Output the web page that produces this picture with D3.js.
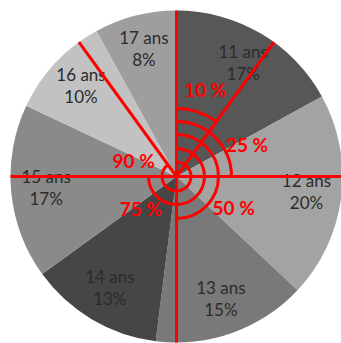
<!DOCTYPE html>
<html>
<head>
<meta charset="utf-8">
<script src="https://cdn.jsdelivr.net/npm/d3@7"></script>
<style>
  html, body { margin: 0; padding: 0; background: #ffffff; }
  svg { display: block; }
</style>
</head>
<body>
<svg id="chart" width="341" height="343"></svg>
<script>
// Age groups and their share of the total (percent)
const ages = ["11 ans", "12 ans", "13 ans", "14 ans", "15 ans", "16 ans", "17 ans"];
const shares = [17, 20, 15, 13, 17, 10, 8];

// Cumulative thresholds marked over the pie
const thresholds = [10, 25, 50, 75, 90];
const thresholdLabels = ["10 %", "25 %", "50 %", "75 %", "90 %"];
// Radial guide lines (percent of the full turn)
const guideAngles = [0, 10, 25, 50, 75, 90];

// ---- styling / layout ----
const sliceColors = ["#575757", "#a3a3a3", "#797979", "#464646", "#8a8a8a", "#c2c2c2", "#9e9e9e"];
const cx = 176.5, cy = 176.5, radius = 166;
const labelRadius = 131;
const ringRadius = [68, 55, 42, 28, 14.5];
const ringLabelOffset = [[28.8, -79.8], [70.5, -24.8], [57.2, 38.5], [-35.7, 39.2], [-42.8, -8.8]];
const red = "#ff0000";

const svg = d3.select("#chart");
const g = svg.append("g").attr("transform", `translate(${cx},${cy})`);

// percent of the full circle -> angle (clockwise from 12 o'clock)
const angle = d3.scaleLinear().domain([0, 100]).range([0, 2 * Math.PI]);

const pie = d3.pie().sort(null).value(d => d.value);
const arcs = pie(ages.map((a, i) => ({ age: a, value: shares[i] })));

const sliceArc = d3.arc().innerRadius(0).outerRadius(radius);
g.selectAll("path.slice")
  .data(arcs)
  .join("path")
  .attr("class", "slice")
  .attr("d", sliceArc)
  .attr("fill", (d, i) => sliceColors[i]);

// slice labels: age on the first line, share on the second
const labelArc = d3.arc().innerRadius(labelRadius).outerRadius(labelRadius);
const labels = g.selectAll("text.slice-label")
  .data(arcs)
  .join("text")
  .attr("class", "slice-label")
  .attr("transform", d => `translate(${labelArc.centroid(d)})`)
  .attr("text-anchor", "middle")
  .attr("font-family", "Lato, 'Liberation Sans', sans-serif")
  .attr("font-size", 17)
  .attr("fill", "#2b2b2b");
labels.append("tspan").attr("x", 0).attr("y", -6).text(d => d.data.age);
labels.append("tspan").attr("x", 0).attr("y", 16).text(d => d.data.value + "%");

// radial guide lines from the centre to the rim
g.selectAll("line.guide")
  .data(guideAngles)
  .join("line")
  .attr("class", "guide")
  .attr("x1", 0).attr("y1", 0)
  .attr("x2", d => radius * Math.sin(angle(d)))
  .attr("y2", d => -radius * Math.cos(angle(d)))
  .attr("stroke", red)
  .attr("stroke-width", 3);

// threshold arcs, each starting at 12 o'clock
g.selectAll("path.ring")
  .data(thresholds)
  .join("path")
  .attr("class", "ring")
  .attr("d", (t, i) => {
    const p = d3.path();
    const r = ringRadius[i];
    p.moveTo(0, -r);
    p.arc(0, 0, r, -Math.PI / 2, -Math.PI / 2 + angle(t));
    return p.toString();
  })
  .attr("fill", "none")
  .attr("stroke", red)
  .attr("stroke-width", 3);

// threshold labels
g.selectAll("text.ring-label")
  .data(thresholds)
  .join("text")
  .attr("class", "ring-label")
  .attr("x", (t, i) => ringLabelOffset[i][0])
  .attr("y", (t, i) => ringLabelOffset[i][1])
  .attr("text-anchor", "middle")
  .attr("font-family", "Lato, 'Liberation Sans', sans-serif")
  .attr("font-weight", "bold")
  .attr("font-size", 19)
  .attr("fill", red)
  .text((t, i) => thresholdLabels[i]);
</script>
</body>
</html>
